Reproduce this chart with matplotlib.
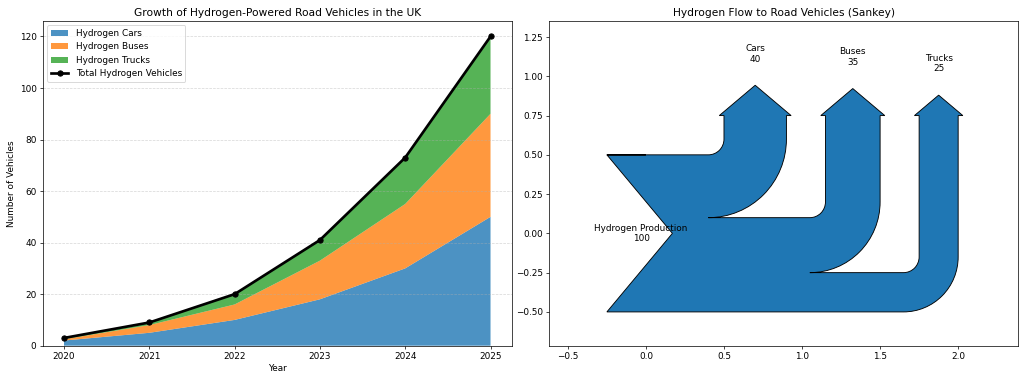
import numpy as np
import matplotlib
matplotlib.use("Agg")
import matplotlib.pyplot as plt
from matplotlib.sankey import Sankey

# Data
years = [2020, 2021, 2022, 2023, 2024, 2025]
cars = [2, 5, 10, 18, 30, 50]
buses = [0.5, 3, 6, 15, 25, 40]
trucks = [0.5, 1, 4, 8, 18, 30]
total = [c + b + t for c, b, t in zip(cars, buses, trucks)]

flow_values = [100, -40, -35, -25]
flow_labels = ['Hydrogen Production', 'Cars', 'Buses', 'Trucks']
flow_orient = [0, 1, 1, 1]

fig, (ax1, ax2) = plt.subplots(1, 2, figsize=(16, 5.9375), dpi=64)
fig.subplots_adjust(left=0.0417, right=0.9944, top=0.9447, bottom=0.0903,
                    wspace=0.0795)

# Stacked area
ax1.stackplot(years, cars, buses, trucks,
              labels=['Hydrogen Cars', 'Hydrogen Buses', 'Hydrogen Trucks'],
              alpha=0.8)
ax1.plot(years, total, color='black', marker='o', linewidth=3,
         label='Total Hydrogen Vehicles')
ax1.set_title('Growth of Hydrogen-Powered Road Vehicles in the UK')
ax1.set_xlabel('Year')
ax1.set_ylabel('Number of Vehicles')
ax1.legend(loc='upper left')
ax1.grid(axis='y', linestyle='--', alpha=0.5)

# Sankey
sankey = Sankey(ax=ax2, scale=0.01, offset=0.2)
sankey.add(flows=flow_values, labels=flow_labels, orientations=flow_orient)
sankey.finish()
ax2.set_aspect('auto')
ax2.set_xlim(-0.62, 2.385)
ax2.set_ylim(-0.715, 1.352)
ax2.set_title('Hydrogen Flow to Road Vehicles (Sankey)')

plt.savefig('out.png', dpi=64)
